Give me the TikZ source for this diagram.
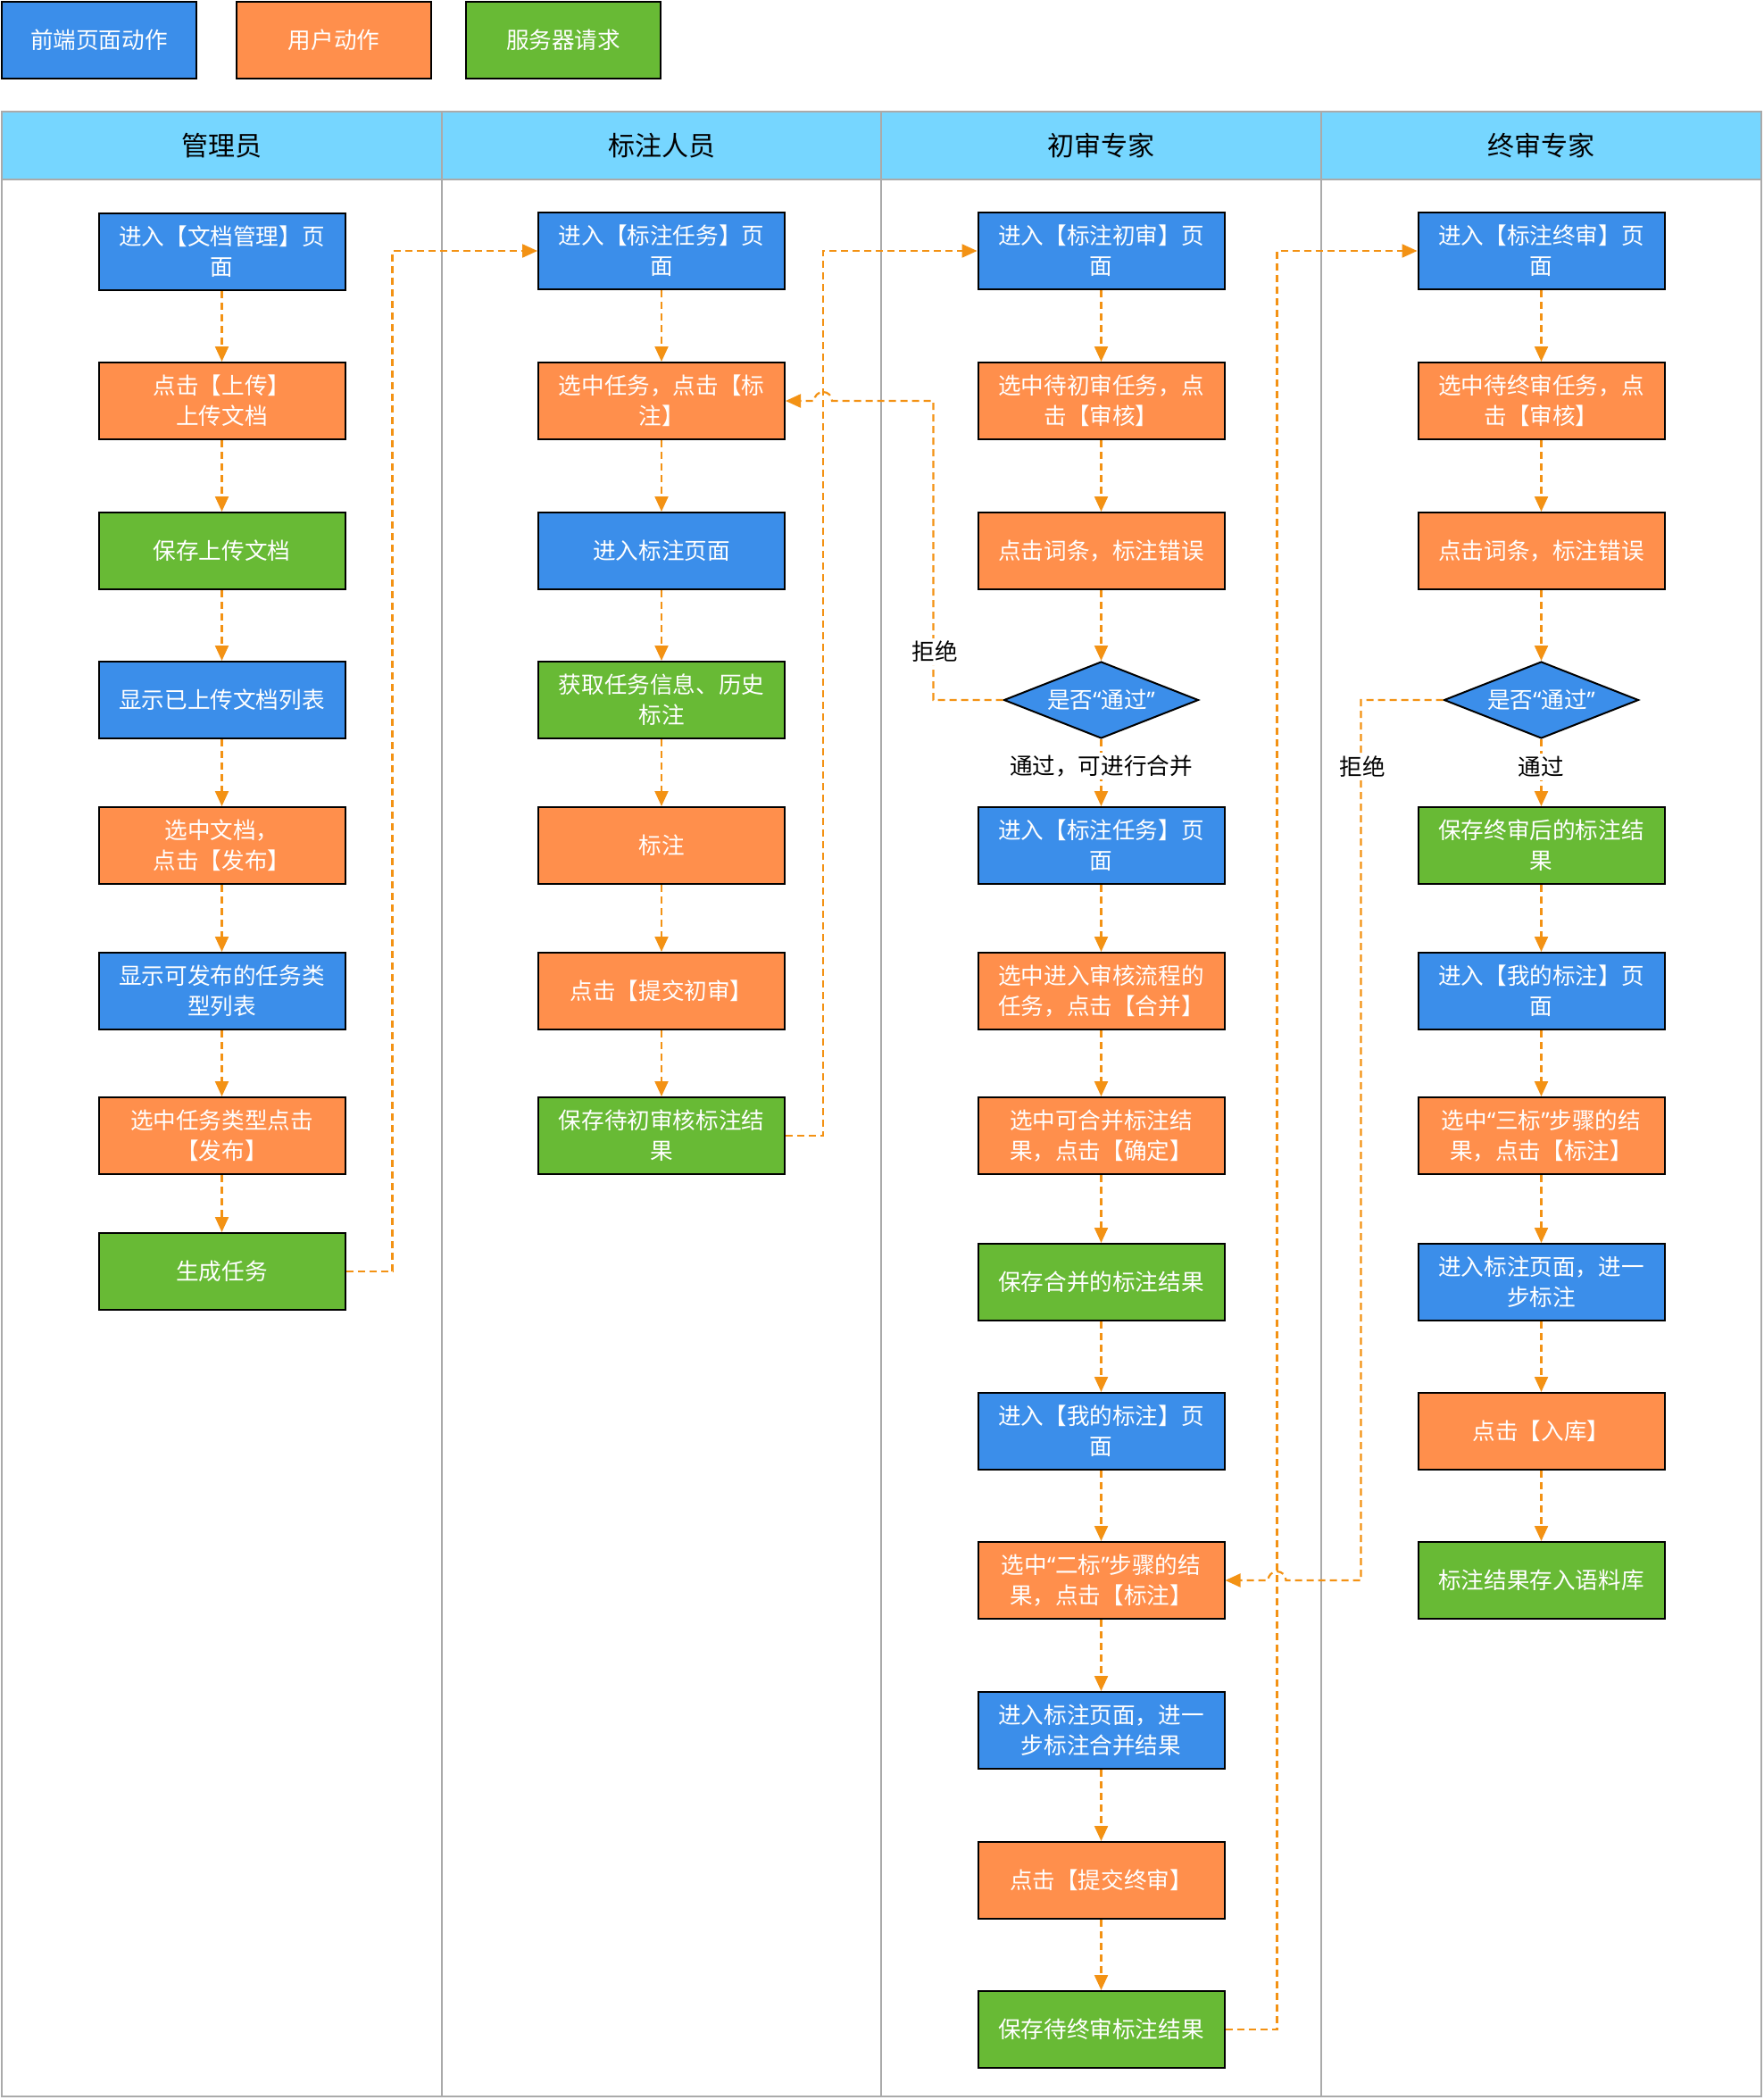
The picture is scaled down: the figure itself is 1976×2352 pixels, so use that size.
\documentclass[tikz,border=0pt]{standalone}
\usepackage{fontspec}
\setmainfont{Noto Sans CJK SC}
\newfontfamily\quotefont{Noto Sans}
\usetikzlibrary{shapes.geometric,arrows.meta,calc}

% narrow curly quotes around CJK words
\newcommand{\cnquote}[1]{{\quotefont “}#1{\quotefont ”}}

\definecolor{actblue}{RGB}{59,142,234}
\definecolor{actorange}{RGB}{255,143,76}
\definecolor{actgreen}{RGB}{104,186,53}
\definecolor{headblue}{RGB}{118,214,255}
\definecolor{lanegray}{RGB}{170,170,170}
\definecolor{flowline}{RGB}{243,146,20}

\begin{document}
\begin{tikzpicture}[x=0.5pt,y=-0.5pt,
  boxtext/.style={font=\fontsize{12.8pt}{17pt}\selectfont, text=white, align=center},
  stepbox/.style={rectangle, draw=black, line width=1pt, minimum width=138pt,
    minimum height=43pt, inner sep=0pt, boxtext},
  page/.style={stepbox, fill=actblue},
  user/.style={stepbox, fill=actorange},
  server/.style={stepbox, fill=actgreen},
  legendbox/.style={stepbox, minimum width=109pt},
  decision/.style={diamond, aspect=2.53, draw=black, line width=1pt, fill=actblue,
    minimum width=109pt, minimum height=43pt, inner sep=0pt, boxtext},
  flow/.style={draw=flowline, line width=1.1pt, dash pattern=on 4pt off 2.5pt,
    -{Triangle[width=7.5pt,length=8.5pt]}},
  branch/.style={font=\fontsize{12.8pt}{17pt}\selectfont, text=black, fill=white,
    inner sep=1.5pt},
  headtext/.style={font=\fontsize{15pt}{18pt}\selectfont, text=black},
  laneline/.style={draw=lanegray, line width=1pt},
]
\useasboundingbox (0,0) rectangle (1976,2352);

% legend
\node[legendbox, fill=actblue]   (keypage)   at (111,45) {前端页面动作};
\node[legendbox, fill=actorange] (keyuser)   at (374,45) {用户动作};
\node[legendbox, fill=actgreen]  (keyserver) at (631,45) {服务器请求};

% swimlanes
\foreach \xa/\xb in {2/495, 495/987, 987/1480, 1480/1973} {
  \draw[laneline, fill=headblue] (\xa,125) rectangle (\xb,201);
  \draw[laneline] (\xa,201) rectangle (\xb,2348);
}
\node[headtext] (h1) at (248.5,163) {管理员};
\node[headtext] (h2) at (741,163)   {标注人员};
\node[headtext] (h3) at (1233.5,163) {初审专家};
\node[headtext] (h4) at (1726.5,163) {终审专家};

% lane 1: administrator
\node[page]   (a1) at (248.5,282)  {进入【文档管理】页\\面};
\node[user]   (a2) at (248.5,449)  {点击【上传】\\上传文档};
\node[server] (a3) at (248.5,617)  {保存上传文档};
\node[page]   (a4) at (248.5,784)  {显示已上传文档列表};
\node[user]   (a5) at (248.5,947)  {选中文档，\\点击【发布】};
\node[page]   (a6) at (248.5,1110) {显示可发布的任务类\\型列表};
\node[user]   (a7) at (248.5,1272) {选中任务类型点击\\【发布】};
\node[server] (a8) at (248.5,1424) {生成任务};

% lane 2: annotator
\node[page]   (b1) at (741,281)  {进入【标注任务】页\\面};
\node[user]   (b2) at (741,449)  {选中任务，点击【标\\注】};
\node[page]   (b3) at (741,617)  {进入标注页面};
\node[server] (b4) at (741,784)  {获取任务信息、历史\\标注};
\node[user]   (b5) at (741,947)  {标注};
\node[user]   (b6) at (741,1110) {点击【提交初审】};
\node[server] (b7) at (741,1272) {保存待初审核标注结\\果};

% lane 3: first review
\node[page]     (c1)  at (1233.5,281)  {进入【标注初审】页\\面};
\node[user]     (c2)  at (1233.5,449)  {选中待初审任务，点\\击【审核】};
\node[user]     (c3)  at (1233.5,617)  {点击词条，标注错误};
\node[decision] (c4)  at (1233.5,784)  {是否\cnquote{通过}};
\node[page]     (c5)  at (1233.5,947)  {进入【标注任务】页\\面};
\node[user]     (c6)  at (1233.5,1110) {选中进入审核流程的\\任务，点击【合并】};
\node[user]     (c7)  at (1233.5,1272) {选中可合并标注结\\果，点击【确定】};
\node[server]   (c8)  at (1233.5,1436) {保存合并的标注结果};
\node[page]     (c9)  at (1233.5,1603) {进入【我的标注】页\\面};
\node[user]     (c10) at (1233.5,1770) {选中\cnquote{二标}步骤的结\\果，点击【标注】};
\node[page]     (c11) at (1233.5,1938) {进入标注页面，进一\\步标注合并结果};
\node[user]     (c12) at (1233.5,2106) {点击【提交终审】};
\node[server]   (c13) at (1233.5,2273) {保存待终审标注结果};

% lane 4: final review
\node[page]     (d1)  at (1726.5,281)  {进入【标注终审】页\\面};
\node[user]     (d2)  at (1726.5,449)  {选中待终审任务，点\\击【审核】};
\node[user]     (d3)  at (1726.5,617)  {点击词条，标注错误};
\node[decision] (d4)  at (1726.5,784)  {是否\cnquote{通过}};
\node[server]   (d5)  at (1726.5,947)  {保存终审后的标注结\\果};
\node[page]     (d6)  at (1726.5,1110) {进入【我的标注】页\\面};
\node[user]     (d7)  at (1726.5,1272) {选中\cnquote{三标}步骤的结\\果，点击【标注】};
\node[page]     (d8)  at (1726.5,1436) {进入标注页面，进一\\步标注};
\node[user]     (d9)  at (1726.5,1603) {点击【入库】};
\node[server]   (d10) at (1726.5,1770) {标注结果存入语料库};

% sequential steps inside each lane
\foreach \p/\q in {a1/a2,a2/a3,a3/a4,a4/a5,a5/a6,a6/a7,a7/a8,
                   b1/b2,b2/b3,b3/b4,b4/b5,b5/b6,b6/b7,
                   c1/c2,c2/c3,c3/c4,c4/c5,c5/c6,c6/c7,c7/c8,c8/c9,c9/c10,c10/c11,c11/c12,c12/c13,
                   d1/d2,d2/d3,d3/d4,d4/d5,d5/d6,d6/d7,d7/d8,d8/d9,d9/d10}
  \draw[flow] (\p) -- (\q);

% hand-over between lanes
\draw[flow] (a8.east) -- ++(52,0) |- (b1.west);
\draw[flow] (b7.east) -- ++(42,0) coordinate (v1) |- (c1.west);
\draw[flow] (c13.east) -- ++(58,0) coordinate (v2) |- (d1.west);

% rejected reviews go back, hopping over the hand-over lines
\draw[flow] (c4.west) -- ++(-78,0) coordinate (k1) -- (k1 |- b2.east)
  -- ($(v1 |- b2.east)+(5pt,0)$) arc[start angle=0, end angle=180, radius=5pt]
  -- (b2.east);
\draw[flow] (d4.west) -- ++(-92,0) coordinate (k2) -- (k2 |- c10.east)
  -- ($(v2 |- c10.east)+(5pt,0)$) arc[start angle=0, end angle=180, radius=5pt]
  -- (c10.east);

% branch labels
\node[branch] (rej1)  at (1047,730)  {拒绝};
\node[branch] (pass1) at (1233.5,858) {通过，可进行合并};
\node[branch] (rej2)  at (1526,859)  {拒绝};
\node[branch] (pass2) at (1726.5,859) {通过};
\end{tikzpicture}
\end{document}
